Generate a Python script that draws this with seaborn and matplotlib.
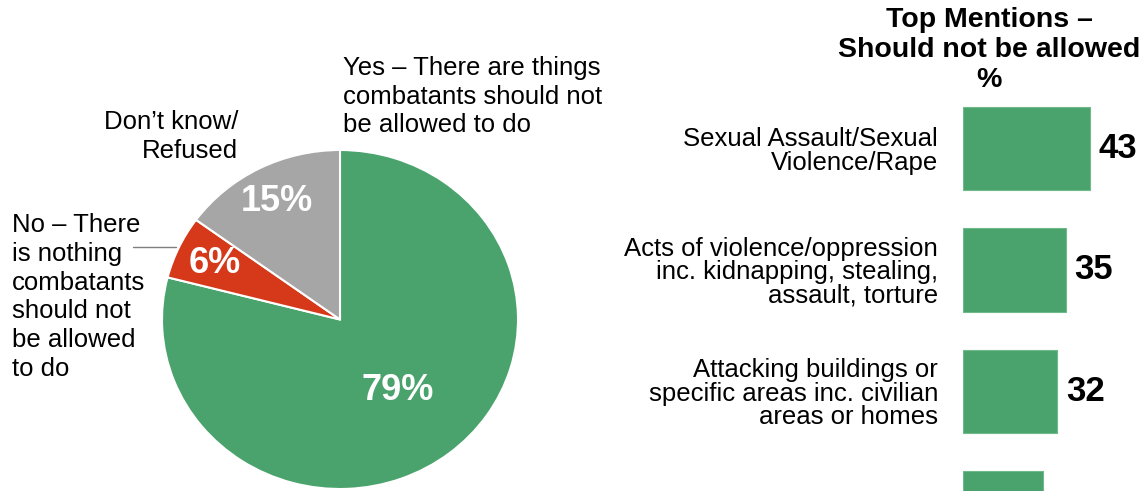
import matplotlib
matplotlib.use("Agg")
import matplotlib.pyplot as plt
from matplotlib.lines import Line2D
import numpy as np
import pandas as pd
import seaborn as sns

# ---- data ----
pie_labels = ["Yes", "No", "Don't know/Refused"]
pie_values = [79, 6, 15]
pie_colors = ["#4aa36c", "#d5391a", "#a6a6a6"]

mention_labels = [
    "Sexual Assault/Sexual\nViolence/Rape",
    "Acts of violence/oppression\ninc. kidnapping, stealing,\nassault, torture",
    "Attacking buildings or\nspecific areas inc. civilian\nareas or homes",
    " ",
]
mention_values = [43, 35, 32, 27]
bar_color = "#4aa36c"

sns.set_theme(style="white")
plt.rcParams["font.family"] = ["Liberation Sans", "DejaVu Sans"]

W, H = 1147, 491
fig = plt.figure(figsize=(W / 100, H / 100), dpi=100)


def px_box(x0, y0, x1, y1):
    """Convert a pixel box (top-left origin) into figure fractions."""
    return [x0 / W, 1 - y1 / H, (x1 - x0) / W, (y1 - y0) / H]


# ---- pie ----
cx, cy, rx, ry = 340, 319.5, 178, 169.5
ax_pie = fig.add_axes(px_box(cx - rx, cy - ry, cx + rx, cy + ry))
wedges, _, autotexts = ax_pie.pie(
    pie_values,
    colors=pie_colors,
    startangle=90,
    counterclock=False,
    radius=1,
    autopct=lambda p: f"{p:.0f}%",
    pctdistance=0.78,
    wedgeprops=dict(edgecolor="white", linewidth=1.5),
    textprops=dict(color="white", fontsize=26, fontweight="bold"),
)
ax_pie.set_aspect("auto")
ax_pie.set_xlim(-1, 1)
ax_pie.set_ylim(-1, 1)
# the large slice carries its label closer to the centre
for w, t, dist in zip(wedges, autotexts, [0.53, 0.78, 0.78]):
    ang = np.deg2rad((w.theta1 + w.theta2) / 2)
    t.set_position((dist * np.cos(ang), dist * np.sin(ang)))
    t.set_ha("center")
    t.set_va("center")

lab_kw = dict(fontsize=18.5, color="black", linespacing=1.25, va="top")
fig.text(343 / W, 1 - 56 / H,
         "Yes \u2013 There are things\ncombatants should not\nbe allowed to do",
         ha="left", **lab_kw)
fig.text(238 / W, 1 - 110 / H, "Don\u2019t know/\nRefused", ha="right", **lab_kw)
fig.text(12 / W, 1 - 213 / H,
         "No \u2013 There\nis nothing\ncombatants\nshould not\nbe allowed\nto do",
         ha="left", **lab_kw)
fig.add_artist(Line2D([133 / W, 176 / W], [1 - 247 / H, 1 - 247 / H],
                      color="#7f7f7f", linewidth=1))

# ---- bars ----
df = pd.DataFrame({"mention": mention_labels, "pct": mention_values})
ax_bar = fig.add_axes(px_box(963, 100, W, H))
sns.barplot(data=df, x="pct", y="mention", orient="h", color=bar_color,
            saturation=1, width=0.69, edgecolor="#6fb98b", linewidth=0.8,
            ax=ax_bar)
ax_bar.set_xlim(0, (W - 963) / 2.95)
ax_bar.set_ylim(2.819, -0.399)
ax_bar.bar_label(ax_bar.containers[0], fmt="%d", padding=6,
                 fontsize=25, fontweight="bold", color="black")
ax_bar.set_xlabel("")
ax_bar.set_ylabel("")
ax_bar.set_xticks([])
ax_bar.tick_params(axis="y", length=0, pad=18)
for t in ax_bar.get_yticklabels():
    t.set_fontsize(18.5)
    t.set_linespacing(0.98)
    t.set_color("black")
sns.despine(ax=ax_bar, left=True, bottom=True)

fig.text(989 / W, 1 - 7 / H, "Top Mentions \u2013\nShould not be allowed\n%",
         ha="center", va="top", fontsize=20.5, fontweight="bold",
         linespacing=1.2, color="black")

fig.savefig("out.png", dpi=100, facecolor="white")
